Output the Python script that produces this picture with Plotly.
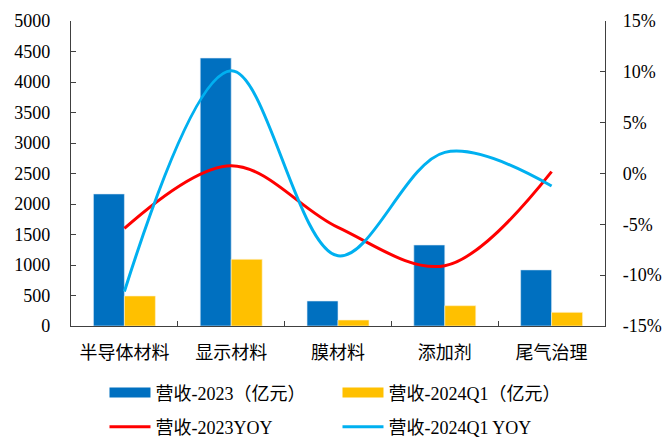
import plotly.graph_objects as go

categories = ["半导体材料", "显示材料", "膜材料", "添加剂", "尾气治理"]
rev_2023 = [2165, 4393, 410, 1328, 920]
rev_2024q1 = [492, 1093, 98, 333, 224]
yoy_2023 = [-0.054, 0.0077, -0.053, -0.0907, 0.0018]
yoy_2024q1 = [-0.116, 0.101, -0.081, 0.0208, -0.0123]
yoy_tickvals = [-0.15, -0.10, -0.05, 0.0, 0.05, 0.10, 0.15]
yoy_ticktext = ["-15%", "-10%", "-5%", "0%", "5%", "10%", "15%"]

names = ["营收-2023（亿元）", "营收-2024Q1（亿元）", "营收-2023YOY", "营收-2024Q1 YOY"]
BLUE, YELLOW, RED, CYAN = "#0070C0", "#FFC000", "#FF0000", "#00B0F0"

FONT = "'Liberation Serif', 'Times New Roman', 'Noto Sans CJK SC', serif"
CJK = "'Noto Sans CJK SC', 'Liberation Serif', sans-serif"

fig = go.Figure()
fig.add_trace(go.Bar(x=categories, y=rev_2023, marker=dict(color=BLUE, line=dict(color="#DDEBF7", width=0.6)),
                     showlegend=False, name=names[0]))
fig.add_trace(go.Bar(x=categories, y=rev_2024q1, marker=dict(color=YELLOW, line=dict(color="#FFF2CC", width=0.6)),
                     showlegend=False, name=names[1]))
fig.add_trace(go.Scatter(x=categories, y=yoy_2023, yaxis="y2", mode="lines",
                         line=dict(color=RED, width=3, shape="spline", smoothing=1.0),
                         name=names[2], legend="legend2"))
fig.add_trace(go.Scatter(x=categories, y=yoy_2024q1, yaxis="y2", mode="lines",
                         line=dict(color=CYAN, width=3, shape="spline", smoothing=1.0),
                         name=names[3], legend="legend2"))
# legend swatches for the bar series
fig.add_trace(go.Scatter(x=[None], y=[None], mode="lines", line=dict(color=BLUE, width=10),
                         name=names[0], legend="legend"))
fig.add_trace(go.Scatter(x=[None], y=[None], mode="lines", line=dict(color=YELLOW, width=10),
                         name=names[1], legend="legend"))

axis_line = "#404040"
legend_common = dict(orientation="h", xanchor="left", yanchor="middle",
                     xref="container", yref="container",
                     font=dict(family=FONT, size=18, color="#000"),
                     itemwidth=41,
                     entrywidth=177, entrywidthmode="pixels",
                     bgcolor="rgba(0,0,0,0)", tracegroupgap=0)

fig.update_layout(
    width=663, height=437,
    margin=dict(l=71, r=58, t=21, b=111, autoexpand=False),
    paper_bgcolor="white", plot_bgcolor="white",
    barmode="group", bargap=0.42, bargroupgap=0,
    xaxis=dict(type="category", categoryorder="array", categoryarray=categories,
               showline=True, linecolor=axis_line, linewidth=1.3,
               ticks="inside", ticklen=5, tickcolor=axis_line, tickson="boundaries",
               tickfont=dict(family=CJK, size=18, color="#000"),
               ticklabelstandoff=10, showgrid=False, zeroline=False, automargin=False),
    yaxis=dict(range=[0, 5000], dtick=500, showline=True, linecolor=axis_line, linewidth=1.3,
               ticks="inside", ticklen=5, tickcolor=axis_line,
               tickfont=dict(family=FONT, size=18, color="#000"), ticklabelstandoff=16,
               showgrid=False, zeroline=False, automargin=False),
    yaxis2=dict(range=[-0.15, 0.15], tickmode="array", tickvals=yoy_tickvals, ticktext=yoy_ticktext,
                overlaying="y", side="right",
                showline=True, linecolor=axis_line, linewidth=1.3,
                ticks="inside", ticklen=5, tickcolor=axis_line,
                tickfont=dict(family=FONT, size=18, color="#000"), ticklabelstandoff=13,
                showgrid=False, zeroline=False, automargin=False),
    legend=dict(x=0.1576, y=0.101, **legend_common),
    legend2=dict(x=0.1576, y=0.023, **legend_common),
)

fig.write_html("out.html", config={"displayModeBar": False},
               post_script="document.body.style.margin='0';document.body.style.overflow='hidden';")
